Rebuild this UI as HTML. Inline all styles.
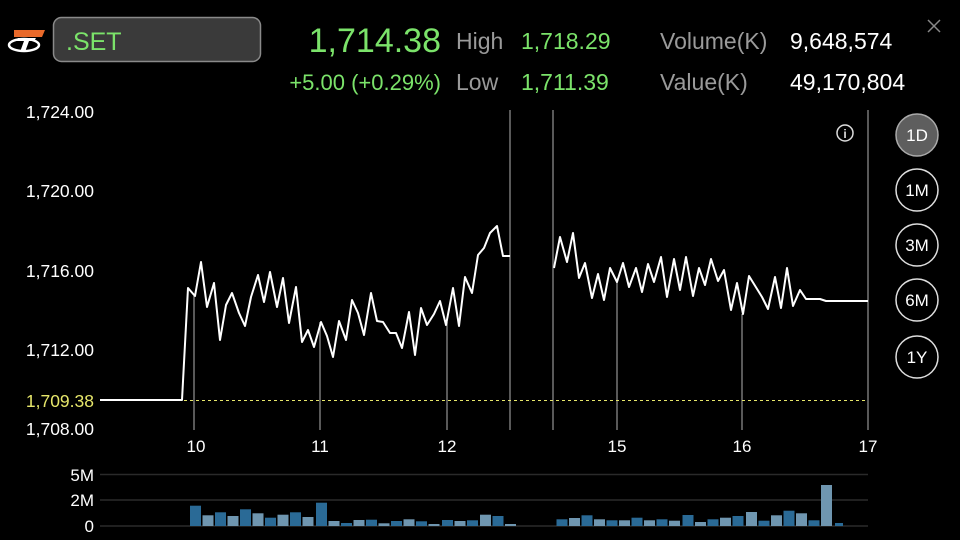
<!DOCTYPE html>
<html><head><meta charset="utf-8"><style>
html,body{margin:0;padding:0;background:#000;width:960px;height:540px;overflow:hidden}
</style></head><body>
<svg width="960" height="540" viewBox="0 0 960 540" xmlns="http://www.w3.org/2000/svg" font-family="Liberation Sans, sans-serif">
<rect width="960" height="540" fill="#000"/>
<path d="M14 30 L45 30 L42 37 L14 37 Z" fill="#e8692a"/>
<ellipse cx="24" cy="45" rx="15" ry="6" fill="none" stroke="#fff" stroke-width="2.5"/>
<path d="M18 38 L36 38 L34 41 L29 41 L25 52 L20 52 L24 41 L16 41 Z" fill="#fff"/>
<rect x="53.5" y="17.5" width="207" height="44" rx="8" fill="#3a3a3a" stroke="#8a8a8a" stroke-width="1.5"/>
<text x="66" y="50" font-size="25" fill="#7be36a">.SET</text>
<text x="441" y="52" font-size="34" fill="#7be36a" text-anchor="end">1,714.38</text>
<text x="441" y="90" font-size="22" fill="#7be36a" text-anchor="end">+5.00 (+0.29%)</text>
<text x="456" y="49" font-size="23" fill="#9a9a9a">High</text>
<text x="456" y="90" font-size="23" fill="#9a9a9a">Low</text>
<text x="521" y="49" font-size="23" fill="#7be36a">1,718.29</text>
<text x="521" y="90" font-size="23" fill="#7be36a">1,711.39</text>
<text x="660" y="49" font-size="23" fill="#9a9a9a">Volume(K)</text>
<text x="660" y="90" font-size="23" fill="#9a9a9a">Value(K)</text>
<text x="790" y="49" font-size="23" fill="#fff">9,648,574</text>
<text x="790" y="90" font-size="23" fill="#fff">49,170,804</text>
<path d="M928 20 L940 32 M940 20 L928 32" stroke="#888" stroke-width="1.5"/>
<g font-size="17.5" fill="#fff" text-anchor="end">
<text x="94" y="118">1,724.00</text>
<text x="94" y="197">1,720.00</text>
<text x="94" y="277">1,716.00</text>
<text x="94" y="356">1,712.00</text>
<text x="94" y="407" fill="#e6e66a">1,709.38</text>
<text x="94" y="435">1,708.00</text>
</g>
<g font-size="17" fill="#fff" text-anchor="middle">
<text x="196" y="452">10</text><text x="320" y="452">11</text><text x="447" y="452">12</text>
<text x="617" y="452">15</text><text x="742" y="452">16</text><text x="868" y="452">17</text>
</g>
<g stroke="#777" stroke-width="1.5">
<line x1="510" y1="110" x2="510" y2="430"/><line x1="553" y1="110" x2="553" y2="430"/>
<line x1="868" y1="110" x2="868" y2="430"/>
<line x1="194" y1="296" x2="194" y2="430"/><line x1="320" y1="322" x2="320" y2="430"/>
<line x1="447" y1="322" x2="447" y2="430"/><line x1="617" y1="282" x2="617" y2="430"/>
<line x1="742" y1="314" x2="742" y2="430"/>
</g>
<line x1="100" y1="400.5" x2="868" y2="400.5" stroke="#e6e66a" stroke-width="1" stroke-dasharray="3,3"/>
<circle cx="845" cy="133" r="8" fill="none" stroke="#ddd" stroke-width="1.5"/>
<text x="845" y="138" font-size="12" fill="#ddd" text-anchor="middle" font-weight="bold">i</text>
<polyline fill="none" stroke="#fff" stroke-width="2" stroke-linejoin="round" points="100,400 182,400 188,288 195,296 201,262 207,307 214,283 220,340 226,305 232,293 239,313 245,326 251,297 258,275 264,302 270,272 277,307 283,278 289,323 296,287 302,342 308,330 314,347 321,322 327,336 333,357 339,321 346,340 352,300 358,313 364,335 371,293 377,321 383,322 390,333 396,333 402,348 409,312 415,355 421,308 427,325 434,314 440,301 446,325 453,288 459,326 465,277 472,293 478,255 484,248 490,233 497,226 503,256 510,256"/>
<polyline fill="none" stroke="#fff" stroke-width="2" stroke-linejoin="round" points="554,268 560,237 567,262 573,233 579,278 585,263 592,298 598,274 604,300 610,268 617,282 623,263 629,287 636,268 642,292 648,264 654,282 661,257 667,297 674,259 680,290 686,257 693,296 699,268 705,285 711,259 718,281 724,270 731,310 737,283 743,314 749,276 762,297 768,309 775,277 781,308 787,268 793,306 800,290 806,299 820,299 826,301 868,301"/>
<circle cx="917" cy="135" r="21" fill="#5e5e5e" stroke="#aaa" stroke-width="1.5"/>
<g fill="none" stroke="#ddd" stroke-width="1.5">
<circle cx="917" cy="190" r="21"/><circle cx="917" cy="245" r="21"/><circle cx="917" cy="300" r="21"/><circle cx="917" cy="357" r="21"/>
</g>
<g font-size="17" fill="#fff" text-anchor="middle">
<text x="917" y="141">1D</text><text x="917" y="196">1M</text><text x="917" y="251">3M</text><text x="917" y="306">6M</text><text x="917" y="363">1Y</text>
</g>
<g stroke="#2a2a2a" stroke-width="1.5">
<line x1="100" y1="474.5" x2="868" y2="474.5"/><line x1="100" y1="500" x2="868" y2="500"/><line x1="100" y1="526" x2="868" y2="526"/>
</g>
<g font-size="17" fill="#fff" text-anchor="end">
<text x="94" y="481">5M</text><text x="94" y="506">2M</text><text x="94" y="532">0</text>
</g>
<g fill="#2a6a96">
<rect x="190" y="505.7" width="11" height="20.3"/><rect x="215" y="512.3" width="11" height="13.7"/><rect x="240" y="509.3" width="11" height="16.7"/><rect x="265" y="517.7" width="11" height="8.3"/><rect x="290" y="512.3" width="11" height="13.7"/><rect x="316" y="502.7" width="11" height="23.3"/><rect x="341" y="523" width="11" height="3"/><rect x="366" y="519.7" width="11" height="6.3"/><rect x="391" y="521" width="11" height="5"/><rect x="416" y="521.3" width="11" height="4.7"/><rect x="442" y="520" width="11" height="6"/><rect x="467" y="520.3" width="11" height="5.7"/><rect x="492.5" y="516" width="11" height="10"/>
<rect x="556.5" y="519.3" width="11" height="6.7"/><rect x="581.5" y="515.3" width="11" height="10.7"/><rect x="606.5" y="520.3" width="11" height="5.7"/><rect x="631.5" y="517.7" width="11" height="8.3"/><rect x="656.5" y="519.3" width="11" height="6.7"/><rect x="682.5" y="515" width="11" height="11"/><rect x="707.5" y="519.3" width="11" height="6.7"/><rect x="732.5" y="516" width="11" height="10"/><rect x="758.5" y="520.7" width="11" height="5.3"/><rect x="783.5" y="510.7" width="11" height="15.3"/><rect x="808.5" y="520.3" width="11" height="5.7"/><rect x="835" y="523" width="8" height="3"/>
</g>
<g fill="#6f96b0">
<rect x="202.5" y="515.3" width="11" height="10.7"/><rect x="227.5" y="516" width="11" height="10"/><rect x="252.5" y="513.3" width="11" height="12.7"/><rect x="277.5" y="514.7" width="11" height="11.3"/><rect x="302.5" y="517" width="11" height="9"/><rect x="328.5" y="521" width="11" height="5"/><rect x="353.5" y="520" width="11" height="6"/><rect x="378.5" y="523.3" width="11" height="2.7"/><rect x="403.5" y="519.3" width="11" height="6.7"/><rect x="428.5" y="524" width="11" height="2"/><rect x="454.5" y="521" width="11" height="5"/><rect x="480" y="514.7" width="11" height="11.3"/><rect x="505" y="524" width="11" height="2"/>
<rect x="569" y="518" width="11" height="8"/><rect x="594" y="519.3" width="11" height="6.7"/><rect x="619" y="520.3" width="11" height="5.7"/><rect x="644" y="520.3" width="11" height="5.7"/><rect x="669" y="520.7" width="11" height="5.3"/><rect x="695" y="522" width="11" height="4"/><rect x="720" y="517.7" width="11" height="8.3"/><rect x="746" y="512" width="11" height="14"/><rect x="771" y="515.3" width="11" height="10.7"/><rect x="796" y="513.3" width="11" height="12.7"/><rect x="821" y="485" width="11" height="41"/>
</g>
</svg>
</body></html>
